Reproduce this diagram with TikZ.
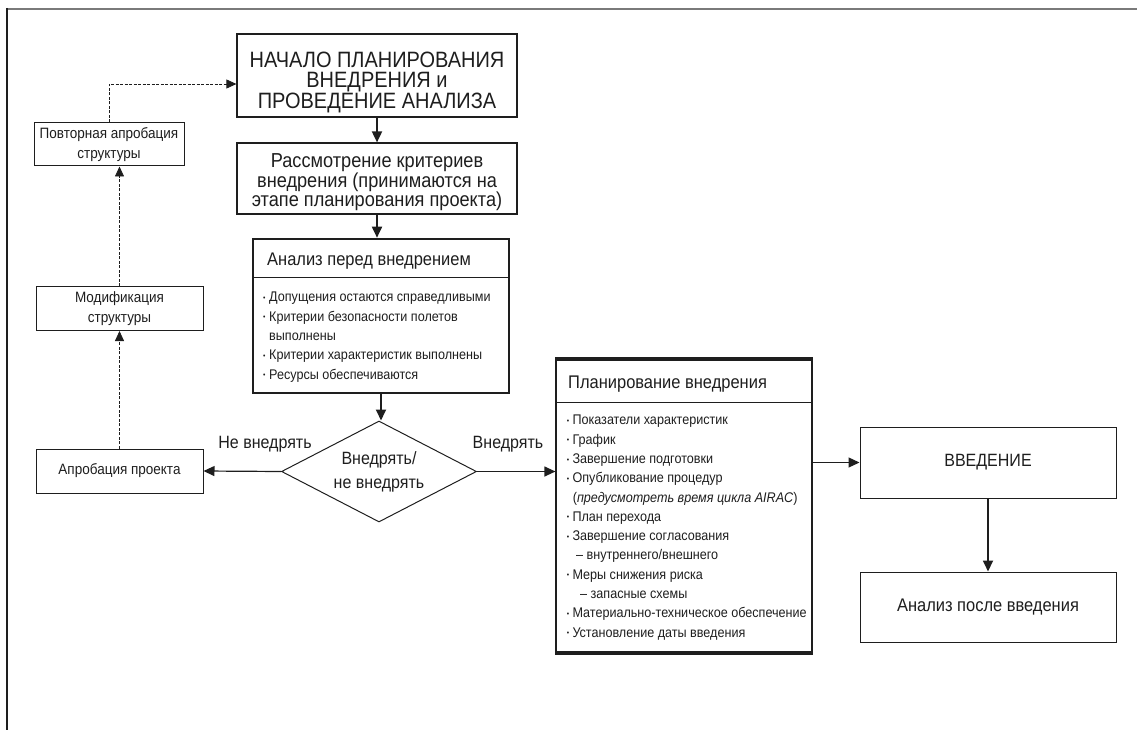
\documentclass[tikz,border=0pt]{standalone}
\usepackage{fontspec}
\setmainfont[FakeStretch=0.9]{Liberation Sans}
\usetikzlibrary{arrows.meta,shapes.geometric}
\definecolor{ink}{HTML}{1E1E1E}
\definecolor{framegray}{HTML}{7A7A7A}
\newcommand\bulA{\makebox[6pt][l]{\raisebox{1.4pt}{\fontsize{7.5}{7.5}\selectfont•}}}
\newcommand\bulB{\makebox[5.6pt][l]{\raisebox{1.4pt}{\fontsize{7.5}{7.5}\selectfont•}}}
\begin{document}
\begin{tikzpicture}[x=1pt,y=-1pt,
  box/.style={draw=ink, line width=1.2pt, rectangle, inner sep=0pt, align=center, text=ink},
  txt/.style={inner sep=0pt, align=center, text=ink},
  item/.style={anchor=base west, inner sep=0pt, text=ink, font=\fontsize{14}{16}\selectfont},
  arr/.style={draw=ink, line width=1.8pt, -{Triangle[length=11pt,width=10pt]}},
  harr/.style={draw=ink, line width=1.2pt, -{Triangle[length=11pt,width=10pt]}},
  darr/.style={draw=ink, line width=0.8pt, dash pattern=on 3pt off 1.5pt, -{Triangle[length=10pt,width=9pt]}},
  dline/.style={draw=ink, line width=0.8pt, dash pattern=on 3pt off 1.5pt}]
\useasboundingbox (0,0) rectangle (1137,730);
% frame
\draw[framegray, line width=2pt] (7,9) -- (1137,9);
\draw[ink, line width=1.3pt] (7,8) -- (7,730);

% top boxes
\node[box, minimum width=280pt, minimum height=83pt] (nachalo) at (377,75.5) {};
\node[txt, font=\fontsize{22.2}{20.5}\selectfont] (nachaloT) at (377,82) {НАЧАЛО ПЛАНИРОВАНИЯ\\ВНЕДРЕНИЯ и\\ПРОВЕДЕНИЕ АНАЛИЗА};
\node[box, minimum width=280pt, minimum height=71pt] (rass) at (377,178.5) {};
\node[txt, font=\fontsize{20.2}{19.5}\selectfont] (rassT) at (377,182.5) {Рассмотрение критериев\\внедрения (принимаются на\\этапе планирования проекта)};

% analysis box
\node[box, line width=2.6pt, minimum width=256pt, minimum height=154pt] (anal) at (381,316) {};
\draw[ink, line width=1pt] (253,277) -- (509,277);
\node[anchor=base west, inner sep=0pt, text=ink, font=\fontsize{18.3}{18}\selectfont] (analH) at (267,265) {Анализ перед внедрением};
\node[item] (a1) at (263,301.8) {\bulA Допущения остаются справедливыми};
\node[item] (a2) at (263,321.1) {\bulA Критерии безопасности полетов};
\node[item] (a3) at (269,340.4) {выполнены};
\node[item] (a4) at (263,359.7) {\bulA Критерии характеристик выполнены};
\node[item] (a5) at (263,379) {\bulA Ресурсы обеспечиваются};

% decision
\node[draw=ink, line width=1pt, diamond, aspect=1.93, minimum width=195pt, minimum height=101pt, inner sep=0pt, align=center, text=ink, font=\fontsize{17.8}{24}\selectfont] (dec) at (379,471.5) {Внедрять/\\не внедрять};
\node[txt, font=\fontsize{17.8}{18}\selectfont] (noL) at (265,444) {Не внедрять};
\node[txt, font=\fontsize{17.8}{18}\selectfont] (yesL) at (508,444) {Внедрять};

% left boxes
\node[box, line width=1pt, minimum width=167pt, minimum height=44pt, font=\fontsize{15}{19.5}\selectfont] (aprob) at (119.5,471) {Апробация проекта};
\node[box, line width=1pt, minimum width=167pt, minimum height=44pt, font=\fontsize{15}{19.5}\selectfont] (modif) at (119.5,308.5) {Модификация\\структуры};
\node[box, line width=1pt, minimum width=150pt, minimum height=43pt, font=\fontsize{15}{19.5}\selectfont] (povt) at (109,144.5) {Повторная апробация\\структуры};

% planning box
\node[box, minimum width=256pt, minimum height=292pt] (plan) at (684,506) {};
\draw[ink, line width=4pt] (plan.north west) -- (plan.north east);
\draw[ink, line width=4pt] (plan.south west) -- (plan.south east);
\draw[ink, line width=1pt] (556,402) -- (812,402);
\node[anchor=base west, inner sep=0pt, text=ink, font=\fontsize{18.3}{18}\selectfont] (planH) at (568,388.5) {Планирование внедрения};
\node[item] (p1) at (566.7,424.8) {\bulB Показатели характеристик};
\node[item] (p2) at (566.7,444.1) {\bulB График};
\node[item] (p3) at (566.7,463.4) {\bulB Завершение подготовки};
\node[item] (p4) at (566.7,482.7) {\bulB Опубликование процедур};
\node[item] (p5) at (572.6,502) {(\textit{предусмотреть время цикла AIRAC})};
\node[item] (p6) at (566.7,521.3) {\bulB План перехода};
\node[item] (p7) at (566.7,540.6) {\bulB Завершение согласования};
\node[item] (p8) at (576,559.9) {– внутреннего/внешнего};
\node[item] (p9) at (566.7,579.2) {\bulB Меры снижения риска};
\node[item] (p10) at (580,598.5) {– запасные схемы};
\node[item] (p11) at (566.7,617.8) {\bulB Материально-техническое обеспечение};
\node[item] (p12) at (566.7,637.1) {\bulB Установление даты введения};

% right boxes
\node[box, line width=1pt, minimum width=256pt, minimum height=71pt, font=\fontsize{17.8}{18}\selectfont] (vved) at (988,462.5) {ВВЕДЕНИЕ};
\node[box, line width=1pt, minimum width=256pt, minimum height=70pt, font=\fontsize{18.3}{18}\selectfont] (posle) at (988,607) {Анализ после введения};

% connectors
\draw[arr] (nachalo.south) -- (rass.north);
\draw[arr] (rass.south) -- (rass.south |- anal.north);
\draw[arr] (anal.south) -- (anal.south |- dec.north);
\draw[harr] (dec.west) -- (aprob.east);
\draw[harr] (dec.east) -- (dec.east -| plan.west);
\draw[harr] (vved.west -| plan.east) -- (vved.west);
\draw[arr] (vved.south) -- (posle.north);
\draw[darr] (aprob.north) -- (modif.south);
\draw[darr] (modif.north) -- (modif.north |- povt.south);
\draw[darr] (povt.north) |- ([yshift=-8.5pt]nachalo.west);
\end{tikzpicture}
\end{document}
